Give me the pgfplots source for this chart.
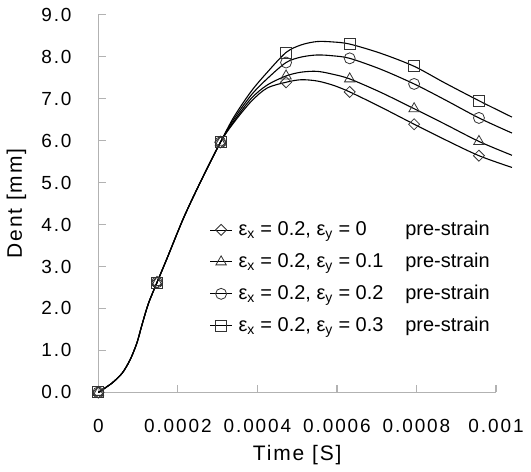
\documentclass[border=0pt]{standalone}
\usepackage{fontspec}
\setmainfont{Liberation Sans}
\newfontfamily\tickfont[LetterSpace=10]{Liberation Sans}
\newfontfamily\labfont[LetterSpace=9]{Liberation Sans}
\usepackage{pgfplots}
\pgfplotsset{compat=1.18}
\usepackage{pgfplotstable}

\pgfplotstableread{
x y
0 0
0.000034 0.22
0.00006 0.46
0.00008 0.78
0.000097 1.18
0.00011 1.62
0.000126 2.12
0.0001475 2.62
0.000173 3.20
0.000214 4.15
0.000256 5.00
0.000307 5.96
0.00034 6.42
0.000384 6.93
0.000424 7.25
0.000472 7.39
0.00051 7.45
0.00055 7.42
0.00059 7.32
0.000632 7.16
0.00071 6.80
0.000794 6.39
0.00087 6.03
0.000957 5.64
0.00104 5.36
}\curveA

\pgfplotstableread{
x y
0 0
0.000034 0.22
0.00006 0.46
0.00008 0.78
0.000097 1.18
0.00011 1.62
0.000126 2.12
0.0001475 2.62
0.000173 3.20
0.000214 4.15
0.000256 5.00
0.000307 5.96
0.00034 6.45
0.000384 7.00
0.000424 7.32
0.000472 7.54
0.00051 7.63
0.00055 7.65
0.00059 7.58
0.000632 7.47
0.00071 7.15
0.000794 6.76
0.00087 6.40
0.000957 5.98
0.00104 5.65
}\curveB

\pgfplotstableread{
x y
0 0
0.000034 0.22
0.00006 0.46
0.00008 0.78
0.000097 1.18
0.00011 1.62
0.000126 2.12
0.0001475 2.62
0.000173 3.20
0.000214 4.15
0.000256 5.00
0.000307 5.96
0.00034 6.50
0.000384 7.08
0.000424 7.47
0.000472 7.86
0.00051 7.99
0.00055 8.04
0.00059 8.02
0.000632 7.96
0.00071 7.70
0.000794 7.35
0.00087 6.98
0.000957 6.54
0.00104 6.18
}\curveC

\pgfplotstableread{
x y
0 0
0.000034 0.22
0.00006 0.46
0.00008 0.78
0.000097 1.18
0.00011 1.62
0.000126 2.12
0.0001475 2.62
0.000173 3.20
0.000214 4.15
0.000256 5.00
0.000307 5.96
0.00034 6.55
0.000384 7.17
0.000424 7.62
0.000472 8.10
0.00051 8.28
0.00055 8.36
0.00059 8.35
0.000632 8.30
0.00071 8.08
0.000794 7.77
0.00087 7.38
0.000957 6.95
0.00104 6.56
}\curveD

\pgfplotstableread{
x a b c d
0 0 0 0 0
0.0001475 2.62 2.62 2.62 2.62
0.000307 5.96 5.96 5.96 5.96
0.000472 7.39 7.54 7.86 8.10
0.000632 7.16 7.47 7.96 8.30
0.000794 6.39 6.76 7.35 7.77
0.000957 5.64 5.98 6.54 6.95
}\marks

\newcommand{\entry}[1]{\makebox[167pt][l]{ε\textsubscript{x} = 0.2, ε\textsubscript{y} = #1}pre-strain}

\begin{document}
\fontsize{20}{23}\selectfont
\begin{tikzpicture}
\begin{axis}[
  scale only axis,
  width=398pt, height=378pt,
  xmin=0, xmax=0.001, ymin=0, ymax=9,
  clip=false,
  axis x line=bottom, axis y line=left,
  axis line style={-, draw=black!30, line width=1.3pt},
  tick style={draw=black!30, line width=1.2pt},
  tick align=inside,
  major tick length=7.5pt,
  xtick={0,0.0002,0.0004,0.0006,0.0008,0.001},
  xticklabels={0,0.0002,0.0004,0.0006,0.0008,0.001},
  ytick={0,1,2,3,4,5,6,7,8,9},
  yticklabels={0.0,1.0,2.0,3.0,4.0,5.0,6.0,7.0,8.0,9.0},
  scaled x ticks=false,
  /pgf/number format/assume math mode=true,
  ticklabel style={font=\fontsize{19}{22}\tickfont},
  xticklabel style={yshift=-20pt},
  yticklabel style={xshift=-20pt},
  xlabel={Time [S]},
  ylabel={Dent [mm]},
  label style={font=\fontsize{21}{24}\labfont},
  xlabel style={at={(axis description cs:0.5,-0.165)}, anchor=center},
  ylabel style={at={(axis description cs:-0.206,0.5)}, anchor=center},
  legend style={at={(axis cs:0.000272,4.18)}, anchor=north west, draw=none, fill=none,
    font=\fontsize{20}{23}\selectfont, row sep=10.5pt,
    /tikz/every odd column/.append style={column sep=4pt}},
  legend cell align=left,
  legend image code/.code={\draw[mark repeat=2,mark phase=2] plot coordinates {(0pt,0pt) (11pt,0pt) (22pt,0pt)};},
  every axis plot/.append style={black},
  after end axis/.code={\path (rel axis cs:-0.2462,-0.1939) rectangle (rel axis cs:1.0879,1.0389);},
]
\addplot[smooth, line width=1.1pt, forget plot] table[x=x,y=y] {\curveA};
\addplot[smooth, line width=1.1pt, forget plot] table[x=x,y=y] {\curveB};
\addplot[smooth, line width=1.1pt, forget plot] table[x=x,y=y] {\curveC};
\addplot[smooth, line width=1.1pt, forget plot] table[x=x,y=y] {\curveD};
\addplot[only marks, mark=square, mark size=3.9pt, mark options={rotate=45, line width=0.8pt, draw=black!80}, legend image post style={sharp plot, line width=0.8pt}] table[x=x,y=a] {\marks};
\addlegendentry{\entry{0}}
\addplot[only marks, mark=triangle, mark size=6pt, mark options={line width=0.8pt, draw=black!80}, legend image post style={sharp plot, line width=0.8pt}] table[x=x,y=b] {\marks};
\addlegendentry{\entry{0.1}}
\addplot[only marks, mark=o, mark size=5.5pt, mark options={line width=0.8pt, draw=black!80}, legend image post style={sharp plot, line width=0.8pt}] table[x=x,y=c] {\marks};
\addlegendentry{\entry{0.2}}
\addplot[only marks, mark=square, mark size=5.5pt, mark options={line width=0.8pt, draw=black!80}, legend image post style={sharp plot, line width=0.8pt}] table[x=x,y=d] {\marks};
\addlegendentry{\entry{0.3}}
\end{axis}
\end{tikzpicture}
\end{document}
